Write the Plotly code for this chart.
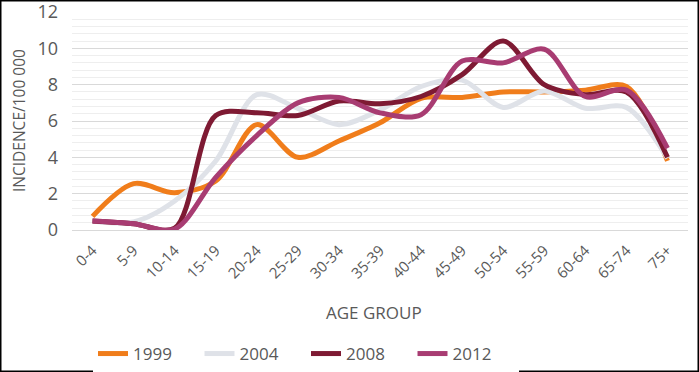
import plotly.graph_objects as go

age_groups = ["0-4", "5-9", "10-14", "15-19", "20-24", "25-29", "30-34", "35-39",
              "40-44", "45-49", "50-54", "55-59", "60-64", "65-74", "75+"]
y1999 = [0.75, 2.55, 2.05, 2.7, 5.8, 4.0, 4.9, 5.9, 7.25, 7.3, 7.6, 7.6, 7.7, 7.9, 3.8]
y2004 = [0.5, 0.45, 1.6, 3.8, 7.45, 6.7, 5.8, 6.6, 7.9, 8.25, 6.75, 7.65, 6.7, 6.75, 3.95]
y2008 = [0.5, 0.35, 0.1, 6.3, 6.45, 6.3, 7.1, 6.95, 7.35, 8.55, 10.4, 8.0, 7.45, 7.6, 4.0]
y2012 = [0.5, 0.35, 0.05, 2.9, 5.2, 7.0, 7.3, 6.45, 6.35, 9.3, 9.2, 9.95, 7.35, 7.7, 4.5]

series = [("1999", y1999, "#f07d1b"), ("2004", y2004, "#dfe2e8"),
          ("2008", y2008, "#7e1a33"), ("2012", y2012, "#a83c72")]

W, H = 699, 372
L, R, T, B = 72, 11, 12, 142
pw, ph = W - L - R, H - T - B

fig = go.Figure()
for name, ys, col in series:
    fig.add_trace(go.Scatter(x=age_groups, y=ys, name=name, mode="lines",
                             line=dict(color=col, width=5, shape="spline", smoothing=0.9)))

font = "Open Sans, sans-serif"
txt = "#595959"
fig.update_layout(
    width=W, height=H,
    margin=dict(l=L, r=R, t=T, b=B, pad=0, autoexpand=False),
    paper_bgcolor="white", plot_bgcolor="white",
    font=dict(family=font, color=txt),
    showlegend=True,
    legend=dict(orientation="h", xref="container", yref="container",
                x=(93 / W), y=1 - 336 / H, xanchor="left", yanchor="top",
                font=dict(size=17, color=txt), entrywidth=61.5, entrywidthmode="pixels",
                traceorder="normal"),
    xaxis=dict(type="category", showgrid=False, showline=False, ticks="",
               tickangle=-45, tickfont=dict(size=15, color=txt), range=[-0.5, 14.5],
               ticklabelstandoff=8, automargin=False, fixedrange=True),
    yaxis=dict(range=[0, 12.001], tickvals=[0, 2, 4, 6, 8, 10, 12],
               showgrid=True, gridcolor="#d9d9d9",
               gridwidth=1, zeroline=True, zerolinecolor="#d9d9d9", zerolinewidth=1,
               tickfont=dict(size=18, color=txt), ticks="", ticklabelstandoff=13,
               ticklabeloverflow="allow", automargin=False,
               minor=dict(tickvals=[v / 10 for v in range(4, 120, 4) if v % 20],
                          showgrid=True, gridcolor="#eeeeee", gridwidth=1),
               fixedrange=True),
    annotations=[
        dict(text="INCIDENCE/100 000", xref="paper", yref="paper",
             x=(19 - L) / pw, y=(T + ph - 121) / ph, textangle=-90, showarrow=False,
             font=dict(size=15.5, color=txt), xanchor="center", yanchor="middle"),
        dict(text="AGE GROUP", xref="paper", yref="paper",
             x=(374 - L) / pw, y=(T + ph - 312) / ph, showarrow=False,
             font=dict(size=17, color=txt), xanchor="center", yanchor="middle"),
    ],
    shapes=[dict(type="rect", xref="paper", yref="paper",
                 x0=(0.75 - L) / pw, x1=(W - 0.75 - L) / pw,
                 y0=(T + ph - (H - 0.75)) / ph, y1=(T + ph - 0.75) / ph,
                 line=dict(color="black", width=1.5), fillcolor="rgba(0,0,0,0)",
                 layer="above")],
)

fig.write_html("out.html", config={"displayModeBar": False},
               post_script="document.body.style.margin='0';document.body.style.padding='0';")
